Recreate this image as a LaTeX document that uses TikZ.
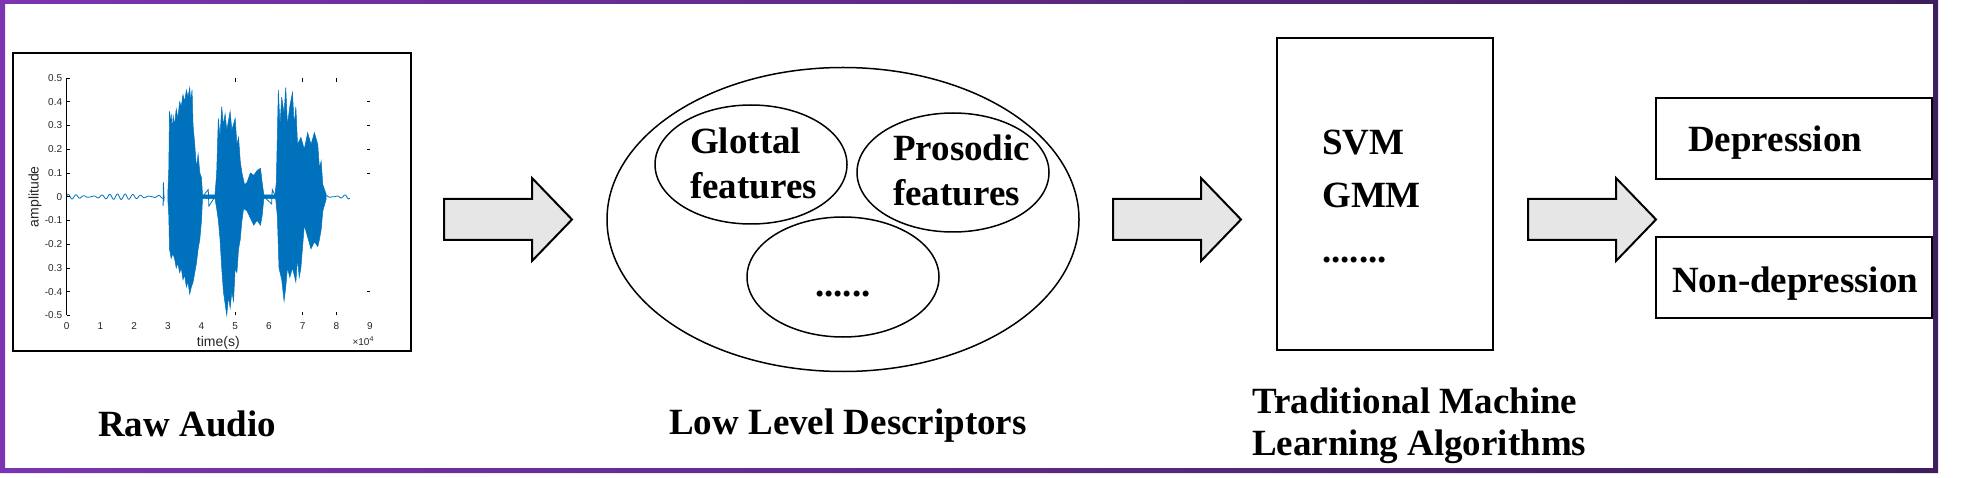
\documentclass[tikz,border=0pt]{standalone}
\usepackage{fontspec}
\setmainfont{Liberation Serif}
\newfontfamily\plotfont{Liberation Sans}
\usepackage{xcolor}

\definecolor{framelight}{RGB}{124,52,176}
\definecolor{framedark}{RGB}{62,30,92}
\definecolor{arrowgray}{RGB}{230,230,230}
\definecolor{waveblue}{RGB}{0,114,189}
\definecolor{ticktext}{RGB}{38,38,38}

\tikzset{
  lbl/.style={font=\fontsize{37}{42}\selectfont\bfseries, inner sep=0pt, anchor=base west},
  box/.style={draw, line width=2pt},
  oval/.style={draw, line width=1.5pt},
  bigarrow/.style={draw, line width=2pt, fill=arrowgray, line join=miter},
  ticklbl/.style={font=\plotfont\fontsize{10}{12}\selectfont, text=ticktext, inner sep=1pt},
  axlbl/.style={font=\plotfont\fontsize{14}{16}\selectfont, text=ticktext, inner sep=0pt},
}

\begin{document}
\begin{tikzpicture}[x=1pt, y=-1pt]
\useasboundingbox (0,0) rectangle (1967,478);
% purple frame
\shade[left color=framelight, right color=framedark, even odd rule]
  (0,0) rectangle (1938,473) (5,4) rectangle (1933,468);
%%% raw audio plot
\draw[line width=2pt] (13,53) rectangle (411,351);
\begin{scope}[shift={(66.7,196.7)}, x=33.7pt, y=237.3pt]
% noise
\draw[waveblue, line width=0.8pt] plot[domain=0:2.9, samples=160, smooth]
  (\x,{0.007*sin(\x*1500)+0.005*sin(\x*1700+40)});
\draw[waveblue, line width=0.8pt] plot[domain=7.6:8.4, samples=50, smooth]
  (\x,{0.007*sin(\x*1500)+0.006*sin(\x*1700+40)});
\draw[waveblue, line width=0.8pt] (2.86,-0.04) -- (2.87,0.06) -- (2.89,-0.02);
\draw[waveblue, line width=0.8pt] (4.03,0) -- (4.2,0.03) -- (4.22,-0.04) -- (4.4,0);
\draw[waveblue, line width=0.8pt] (5.85,0) -- (6.08,-0.03) -- (6.1,0.03) -- (6.2,0);
% voiced bursts
\filldraw[waveblue, line width=0.5pt, line join=miter]
  (3.00,0.01) -- (3.03,0.12) -- (3.05,0.36) -- (3.08,0.30) -- (3.10,0.35) -- (3.13,0.28)
  -- (3.16,0.34) -- (3.2,0.30) -- (3.25,0.37) -- (3.3,0.33) -- (3.35,0.40) -- (3.4,0.38)
  -- (3.45,0.43) -- (3.5,0.40) -- (3.55,0.45) -- (3.6,0.42) -- (3.65,0.46) -- (3.68,0.40)
  -- (3.72,0.45) -- (3.75,0.30) -- (3.8,0.22) -- (3.85,0.12) -- (3.9,0.18) -- (3.95,0.10)
  -- (4.0,0.08) -- (4.03,0.008) -- (4.4,0.008) -- (4.45,0.10) -- (4.5,0.33) -- (4.55,0.25)
  -- (4.6,0.38) -- (4.65,0.30) -- (4.7,0.35) -- (4.75,0.28) -- (4.8,0.32) -- (4.85,0.36)
  -- (4.9,0.28) -- (5.0,0.33) -- (5.05,0.22) -- (5.1,0.25) -- (5.15,0.15) -- (5.2,0.1)
  -- (5.28,0.05) -- (5.35,0.06) -- (5.45,0.10) -- (5.55,0.09) -- (5.65,0.11) -- (5.75,0.12)
  -- (5.8,0.06) -- (5.85,0.008) -- (6.18,0.008) -- (6.22,0.06) -- (6.28,0.45) -- (6.33,0.30)
  -- (6.38,0.42) -- (6.45,0.35) -- (6.5,0.46) -- (6.55,0.30) -- (6.62,0.38) -- (6.7,0.44)
  -- (6.75,0.30) -- (6.8,0.38) -- (6.85,0.22) -- (6.95,0.25) -- (7.05,0.20) -- (7.15,0.27)
  -- (7.25,0.22) -- (7.35,0.27) -- (7.45,0.22) -- (7.5,0.12) -- (7.55,0.15) -- (7.6,0.05)
  -- (7.7,0.01)
  -- (7.7,-0.01) -- (7.6,-0.06) -- (7.55,-0.14) -- (7.5,-0.18) -- (7.45,-0.21) -- (7.35,-0.19)
  -- (7.25,-0.22) -- (7.15,-0.17) -- (7.05,-0.12) -- (6.95,-0.30) -- (6.9,-0.34) -- (6.85,-0.26)
  -- (6.8,-0.36) -- (6.7,-0.30) -- (6.62,-0.34) -- (6.55,-0.30) -- (6.5,-0.38) -- (6.45,-0.44)
  -- (6.38,-0.35) -- (6.3,-0.30) -- (6.25,-0.08) -- (6.2,-0.008) -- (5.85,-0.008) -- (5.8,-0.08)
  -- (5.75,-0.12) -- (5.65,-0.10) -- (5.55,-0.12) -- (5.45,-0.09) -- (5.35,-0.06) -- (5.25,-0.05)
  -- (5.2,-0.10) -- (5.15,-0.18) -- (5.1,-0.22) -- (5.05,-0.32) -- (5.0,-0.30) -- (4.95,-0.44)
  -- (4.9,-0.40) -- (4.85,-0.47) -- (4.8,-0.42) -- (4.75,-0.50) -- (4.7,-0.45) -- (4.65,-0.40)
  -- (4.6,-0.30) -- (4.55,-0.18) -- (4.5,-0.10) -- (4.45,-0.05) -- (4.4,-0.008) -- (4.03,-0.008)
  -- (4.0,-0.10) -- (3.95,-0.18) -- (3.9,-0.22) -- (3.85,-0.28) -- (3.8,-0.32) -- (3.75,-0.36)
  -- (3.7,-0.38) -- (3.65,-0.41) -- (3.6,-0.36) -- (3.55,-0.38) -- (3.5,-0.33) -- (3.45,-0.35)
  -- (3.4,-0.30) -- (3.35,-0.32) -- (3.3,-0.28) -- (3.25,-0.30) -- (3.2,-0.26) -- (3.15,-0.24)
  -- (3.1,-0.26) -- (3.05,-0.22) -- (3.03,-0.08) -- (3.0,-0.01) -- cycle;
% axis and ticks
\draw[line width=0.8pt] (0,-0.5) -- (0,0.5);
\foreach \v/\t in {0.5/0.5,0.4/0.4,0.3/0.3,0.2/0.2,0.1/0.1,0/0,-0.1/-0.1,-0.2/-0.2,-0.3/0.3,-0.4/-0.4,-0.5/-0.5}{
  \draw[line width=0.6pt] (0,\v) -- (0.1,\v);
  \node[ticklbl, anchor=east] at (-0.1,\v) {\t};
}
\foreach \v in {0,...,9}
  \node[ticklbl] at (\v,-0.545) {\v};
\foreach \v in {5,7,8}{
  \draw[line width=0.6pt] (\v,0.5) -- (\v,0.485);
  \draw[line width=0.6pt] (\v,-0.5) -- (\v,-0.485);
}
\foreach \v in {0.4,0.3,0.2,0.1,-0.4}
  \draw[line width=0.6pt] (9,\v) -- (8.9,\v);
\node[axlbl] (timelbl) at (4.5,-0.615) {time(s)};
\node[ticklbl] (explbl) at (8.8,-0.61) {×10\textsuperscript{4}};
\node[axlbl, rotate=90] (amplbl) at (-0.94,0) {amplitude};
\end{scope}
\node[lbl] (rawaudio) at (98,436) {Raw Audio};
%%% arrows
\foreach \ax in {444,1113,1528}
  \draw[bigarrow] (\ax,199) -- (\ax+88,199) -- (\ax+88,178) -- (\ax+128,219.5)
    -- (\ax+88,261) -- (\ax+88,240) -- (\ax,240) -- cycle;
%%% low level descriptors
\draw[oval] (843,219.5) ellipse [x radius=236, y radius=152];
\draw[oval] (751,164.5) ellipse [x radius=96, y radius=59.5];
\draw[oval] (953,172.5) ellipse [x radius=96, y radius=59.5];
\draw[oval] (843,277) ellipse [x radius=96, y radius=60];
\node[lbl] (glottal) at (690,154) {Glottal};
\node[lbl] (glottalf) at (690,199) {features};
\node[lbl] (prosodic) at (893,161) {Prosodic};
\node[lbl] (prosodicf) at (893,206) {features};
\node[lbl] (llddots) at (815,296) {......};
\node[lbl] (lld) at (669,434) {Low Level Descriptors};
%%% machine learning box
\draw[box] (1277,38) rectangle (1493,350);
\node[lbl] (svm) at (1322,155) {SVM};
\node[lbl] (gmm) at (1322,208) {GMM};
\node[lbl] (mldots) at (1322,262) {.......};
\node[lbl] (tml1) at (1252,413) {Traditional Machine};
\node[lbl] (tml2) at (1252,455) {Learning Algorithms};
%%% outputs
\draw[box] (1656,98) rectangle (1932,179);
\draw[box] (1656,237) rectangle (1932,318);
\node[lbl] (dep) at (1688,152) {Depression};
\node[lbl] (nondep) at (1672,293) {Non-depression};
\end{tikzpicture}
\end{document}
